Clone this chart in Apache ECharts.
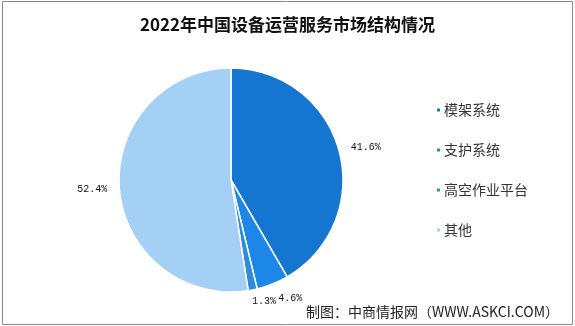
<!DOCTYPE html>
<html>
<head>
<meta charset="utf-8">
<script src="https://cdn.jsdelivr.net/npm/echarts@6/dist/echarts.min.js"></script>
<style>
html,body{margin:0;padding:0;background:#fff;}
#chart{width:575px;height:326px;}
</style>
</head>
<body>
<div id="chart"></div>
<script>
var titleText = '2022年中国设备运营服务市场结构情况';
var sourceText = '制图：中商情报网（WWW.ASKCI.COM）';
var categories = ['模架系统', '支护系统', '高空作业平台', '其他'];
var shares = [41.6, 4.6, 1.3, 52.4];
var colors = ['#1576D1', '#1C87E6', '#2D8CDC', '#A4D0F6'];

var chart = echarts.init(document.getElementById('chart'), null, {renderer: 'canvas'});
var data = categories.map(function (c, i) {
  var item = {name: c, value: shares[i], itemStyle: {color: colors[i]}};
  if (i === 1) { item.labelLine = {length: 15}; }
  if (i === 2) { item.labelLine = {length: 12, length2: -3}; }
  return item;
});
chart.setOption({
  backgroundColor: '#fff',
  animation: false,
  title: {
    text: titleText,
    left: 'center',
    top: 11,
    textStyle: {fontFamily: 'Noto Sans CJK SC', fontSize: 17, fontWeight: 'bold', color: '#111'}
  },
  legend: {
    orient: 'vertical',
    left: 430,
    top: 98,
    itemWidth: 5,
    itemHeight: 5,
    itemGap: 26,
    icon: 'rect',
    data: categories,
    textStyle: {fontFamily: 'Noto Sans CJK SC', fontSize: 14, color: '#333', padding: [0, 0, 0, -2]}
  },
  graphic: [
    {
      type: 'rect',
      shape: {x: 2.5, y: 1.5, width: 570, height: 323},
      style: {fill: 'none', stroke: '#8a8a8a', lineWidth: 1},
      silent: true
    },
    {
      type: 'text',
      right: 16,
      top: 305,
      style: {text: sourceText, font: '14px "Noto Sans CJK SC"', fill: '#222'}
    }
  ],
  series: [{
    type: 'pie',
    center: [231, 180],
    radius: [0, 112],
    startAngle: 90,
    clockwise: true,
    avoidLabelOverlap: false,
    minShowLabelAngle: 0,
    labelLayout: {hideOverlap: false},
    data: data,
    itemStyle: {borderColor: '#fff', borderWidth: 1.5},
    label: {
      show: true,
      position: 'outside',
      formatter: function (p) { return p.value.toFixed(1) + '%'; },
      fontFamily: 'Liberation Mono',
      fontSize: 10,
      color: '#111',
      distanceToLabelLine: 0
    },
    labelLine: {show: false, length: 12, length2: 0},
    emphasis: {disabled: true}
  }]
});
</script>
</body>
</html>
